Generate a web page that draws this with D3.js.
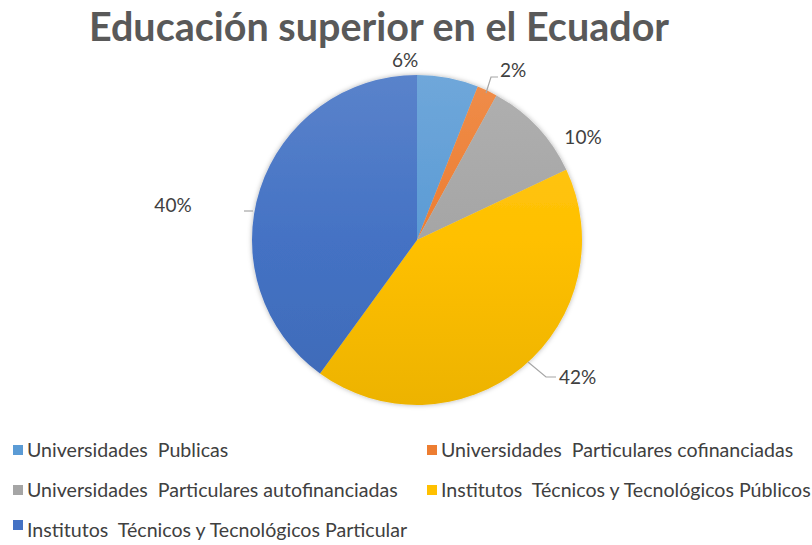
<!DOCTYPE html>
<html>
<head>
<meta charset="utf-8">
<script src="https://cdn.jsdelivr.net/npm/d3@7"></script>
<style>
  body { margin: 0; background: #fff; }
  text { font-family: Lato, "Open Sans", sans-serif; white-space: pre; }
</style>
</head>
<body>
<div id="chart"></div>
<script>
// data
var categories = ["Universidades  Publicas", "Universidades  Particulares cofinanciadas",
  "Universidades  Particulares autofinanciadas", "Institutos  Técnicos y Tecnológicos Públicos",
  "Institutos  Técnicos y Tecnológicos Particular"];
var values = [6, 2, 10, 42, 40];
var colors = ["#5B9BD5", "#ED7D31", "#A5A5A5", "#FFC000", "#4472C4"];
var title = "Educación superior en el Ecuador";

var width = 812, height = 545;
var cx = 417, cy = 240, radius = 165;

var svg = d3.select("#chart").append("svg")
  .attr("width", width).attr("height", height);

// vertical gradient per slice, lighter at the top (office style)
var defs = svg.append("defs");
colors.forEach(function(c, i) {
  var g = defs.append("linearGradient").attr("id", "grad" + i)
    .attr("gradientUnits", "userSpaceOnUse")
    .attr("x1", 0).attr("y1", -radius).attr("x2", 0).attr("y2", radius);
  g.append("stop").attr("offset", "0%").attr("stop-color", d3.interpolateRgb(c, "#fff")(0.12));
  g.append("stop").attr("offset", "50%").attr("stop-color", c);
  g.append("stop").attr("offset", "100%").attr("stop-color", d3.color(c).darker(0.2));
});
var f = defs.append("filter").attr("id", "shadow")
  .attr("x", "-10%").attr("y", "-10%").attr("width", "120%").attr("height", "120%");
f.append("feDropShadow").attr("dx", 0).attr("dy", 0).attr("stdDeviation", 2.5)
  .attr("flood-color", "#000").attr("flood-opacity", 0.3);

// title
svg.append("text").attr("x", 379).attr("y", 41)
  .attr("text-anchor", "middle").attr("font-size", 39.5).attr("font-weight", "bold")
  .attr("fill", "#595959").text(title);

var pie = d3.pie().sort(null).value(function(d) { return d; });
var arcs = pie(values);
var arc = d3.arc().innerRadius(0).outerRadius(radius);

var g = svg.append("g").attr("transform", "translate(" + cx + "," + cy + ")")
  .attr("filter", "url(#shadow)");
g.selectAll("path").data(arcs).enter().append("path")
  .attr("d", arc)
  .attr("fill", function(d, i) { return "url(#grad" + i + ")"; });

// data labels + leader lines
var labelPos = [
  { x: 405, y: 67, anchor: "middle", line: null },
  { x: 500, y: 77, anchor: "start", line: [[486, 93], [491, 77], [498, 77]] },
  { x: 583, y: 144, anchor: "middle", line: null },
  { x: 559, y: 384, anchor: "start", line: [[528, 362], [546, 377], [556, 377]] },
  { x: 173, y: 212, anchor: "middle", line: [[244, 211], [253, 211]] }
];
arcs.forEach(function(d, i) {
  var p = labelPos[i];
  if (p.line) {
    svg.append("path").attr("d", d3.line()(p.line))
      .attr("fill", "none").attr("stroke", "#A6A6A6").attr("stroke-width", 1.2);
  }
  svg.append("text").attr("x", p.x).attr("y", p.y)
    .attr("text-anchor", p.anchor).attr("font-size", 19).attr("fill", "#404040")
    .text(d.data + "%");
});

// legend
var legendPos = [[13, 457], [427, 457], [13, 497], [427, 497], [13, 537]];
var lg = svg.append("g").selectAll("g").data(categories).enter().append("g")
  .attr("transform", function(d, i) { return "translate(" + legendPos[i][0] + "," + legendPos[i][1] + ")"; });
lg.append("rect").attr("x", 0).attr("y", function(d, i) { return i == 4 ? -17 : -12; })
  .attr("width", 10).attr("height", 10)
  .attr("fill", function(d, i) { return colors[i]; });
lg.append("text").attr("x", 14).attr("font-size", 19.6).attr("fill", "#404040")
  .text(function(d) { return d; });
</script>
</body>
</html>
